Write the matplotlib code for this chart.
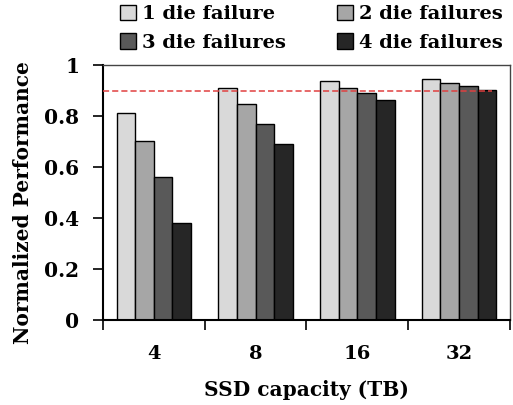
import matplotlib.pyplot as plt
import numpy as np

capacities = ['4', '8', '16', '32']
series = ['1 die failure', '2 die failures', '3 die failures', '4 die failures']
perf_1die = [0.81, 0.91, 0.938, 0.944]
perf_2die = [0.70, 0.847, 0.908, 0.928]
perf_3die = [0.56, 0.77, 0.889, 0.918]
perf_4die = [0.38, 0.69, 0.863, 0.903]
target = 0.9

colors = ['#d9d9d9', '#a6a6a6', '#595959', '#262626']
values = [perf_1die, perf_2die, perf_3die, perf_4die]

plt.rcParams['font.family'] = 'DejaVu Serif'
plt.rcParams['font.weight'] = 'bold'

fig = plt.figure(figsize=(5.13, 4.05), dpi=100)
ax = fig.add_axes([0.2008, 0.2099, 0.7932, 0.6296])

x = np.arange(len(capacities))
w = 0.183
bars = []
for i in range(4):
    b = ax.bar(x + (i - 1.5) * w, values[i], w, color=colors[i], edgecolor='black',
               linewidth=1, label=series[i], zorder=2)
    bars.append(b)

ax.hlines(target, -0.5, 3.32, colors='#e04040', linestyles=(0, (4, 2)), linewidth=1.1, zorder=3)

ax.set_xlim(-0.5, 3.5)
ax.set_ylim(0, 1)
ax.set_yticks([0, 0.2, 0.4, 0.6, 0.8, 1])
ax.set_yticklabels(['0', '0.2', '0.4', '0.6', '0.8', '1'], fontsize=14.5, fontweight='bold')
ax.set_xticks(x)
ax.set_xticklabels(capacities, fontsize=14, fontweight='bold')
ax.set_xticks(np.arange(-0.5, 4, 1), minor=True)
ax.tick_params(axis='x', which='major', length=0, pad=18)
ax.tick_params(axis='x', which='minor', length=7, width=1.2, direction='out')
ax.tick_params(axis='y', length=7, width=1.2, direction='out', pad=10)
for s in ['left', 'bottom']:
    ax.spines[s].set_linewidth(1.5)
for s in ['top', 'right']:
    ax.spines[s].set_linewidth(1)
    ax.spines[s].set_color('#444444')

ax.set_xlabel('SSD capacity (TB)', fontsize=14.5, fontweight='bold', labelpad=12)
ax.set_ylabel('Normalized Performance', fontsize=14.5, fontweight='bold')
ax.yaxis.set_label_coords(-0.172, 0.459)

# row-wise legend order: 1 2 / 3 4
order = [0, 2, 1, 3]
fig.legend([bars[i] for i in order], [series[i] for i in order], ncol=2,
           loc='upper left', bbox_to_anchor=(118 / 513, 1 - 3 / 405), frameon=False,
           fontsize=14, handlelength=0.85, handleheight=0.85, handletextpad=0.3,
           columnspacing=2.6, labelspacing=0.5, borderpad=0.1, borderaxespad=0)

fig.savefig('out.png', dpi=100)
